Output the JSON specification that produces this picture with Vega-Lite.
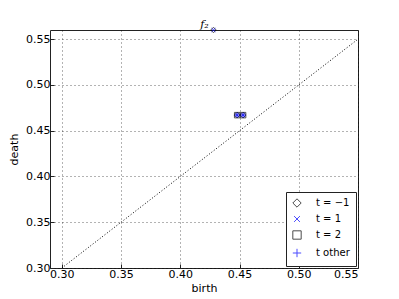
{
  "$schema": "https://vega.github.io/schema/vega-lite/v6.json",
  "width": 308,
  "height": 238,
  "autosize": {"type": "none"},
  "padding": {"left": 50, "top": 30, "right": 41, "bottom": 31},
  "background": "white",
  "config": {
    "font": "DejaVu Sans",
    "view": {"stroke": "#222222", "strokeWidth": 1},
    "axis": {
      "grid": true,
      "gridColor": "#000000",
      "gridDash": [1, 3],
      "gridOpacity": 0.6,
      "domain": false,
      "tickColor": "#222222",
      "tickSize": -4,
      "labelFontSize": 11,
      "labelColor": "#000000",
      "titleFontSize": 11,
      "titleFontWeight": "normal",
      "titleColor": "#000000",
      "labelFont": "DejaVu Sans",
      "titleFont": "DejaVu Sans"
    },
    "legend": {
      "orient": "bottom-right",
      "offset": 2,
      "strokeColor": "#222222",
      "fillColor": "white",
      "padding": 6,
      "labelFontSize": 10,
      "labelFont": "DejaVu Sans",
      "labelColor": "#000000",
      "rowPadding": 4,
      "symbolSize": 70,
      "labelOffset": 14,
      "symbolStrokeWidth": 1
    }
  },
  "datasets": {
    "pts": [
      {"birth": 0.428, "death": 0.56, "t": "t = −1"},
      {"birth": 0.428, "death": 0.56, "t": "t = 1"},
      {"birth": 0.448, "death": 0.467, "t": "t = −1"},
      {"birth": 0.448, "death": 0.467, "t": "t = 1"},
      {"birth": 0.448, "death": 0.467, "t": "t = 2"},
      {"birth": 0.448, "death": 0.467, "t": "t other"},
      {"birth": 0.453, "death": 0.467, "t": "t = −1"},
      {"birth": 0.453, "death": 0.467, "t": "t = 1"},
      {"birth": 0.453, "death": 0.467, "t": "t = 2"},
      {"birth": 0.453, "death": 0.467, "t": "t other"}
    ],
    "diag": [
      {"birth": 0.30, "death": 0.30},
      {"birth": 0.55, "death": 0.55}
    ],
    "lab": [
      {"birth": 0.428, "death": 0.56, "label": "f₂"}
    ]
  },
  "layer": [
    {
      "data": {"name": "diag"},
      "mark": {"type": "line", "color": "#000000", "strokeWidth": 1, "strokeDash": [1, 2], "clip": true},
      "encoding": {
        "x": {"field": "birth", "type": "quantitative", "scale": {"domain": [0.29, 0.55], "nice": false, "zero": false},
              "axis": {"title": "birth", "values": [0.30, 0.35, 0.40, 0.45, 0.50, 0.55], "format": ".2f", "titlePadding": 3, "labelPadding": 4}},
        "y": {"field": "death", "type": "quantitative", "scale": {"domain": [0.30, 0.56], "nice": false, "zero": false},
              "axis": {"title": "death", "values": [0.30, 0.35, 0.40, 0.45, 0.50, 0.55], "format": ".2f", "titlePadding": 6, "labelPadding": 4}}
      }
    },
    {
      "data": {"name": "pts"},
      "mark": {"type": "point", "filled": false, "strokeWidth": 1, "size": 30},
      "encoding": {
        "x": {"field": "birth", "type": "quantitative"},
        "y": {"field": "death", "type": "quantitative"},
        "shape": {"field": "t", "type": "nominal", "title": null,
          "scale": {"domain": ["t = −1", "t = 1", "t = 2", "t other"],
                    "range": ["diamond", "M-0.7,-0.7L0.7,0.7M-0.7,0.7L0.7,-0.7", "square", "M-1,0L1,0M0,-1L0,1"]}},
        "color": {"field": "t", "type": "nominal", "title": null,
          "scale": {"domain": ["t = −1", "t = 1", "t = 2", "t other"],
                    "range": ["#000000", "#0000ff", "#000000", "#0000ff"]}}
      }
    },
    {
      "data": {"name": "lab"},
      "mark": {"type": "text", "font": "DejaVu Serif", "fontStyle": "italic", "fontSize": 11, "dx": -9, "dy": -5, "align": "center", "baseline": "middle", "color": "#000000"},
      "encoding": {
        "x": {"field": "birth", "type": "quantitative"},
        "y": {"field": "death", "type": "quantitative"},
        "text": {"field": "label"}
      }
    }
  ]
}
